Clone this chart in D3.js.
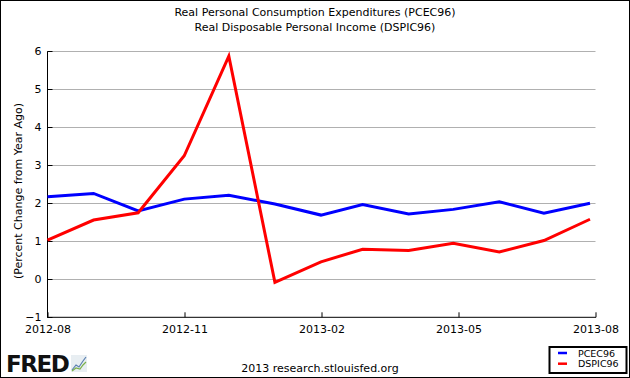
<!DOCTYPE html>
<html><head><meta charset="utf-8">
<script src="https://cdn.jsdelivr.net/npm/d3@7"></script>
<style>html,body{margin:0;padding:0;background:#fff;}svg{display:block;}text{font-family:"DejaVu Sans",Verdana,sans-serif;}</style>
</head><body>
<script>
const months = ["2012-08","2012-09","2012-10","2012-11","2012-12","2013-01","2013-02","2013-03","2013-04","2013-05","2013-06","2013-07","2013-08"];
const pcec96 = [2.17, 2.26, 1.80, 2.11, 2.21, 1.98, 1.69, 1.97, 1.72, 1.84, 2.04, 1.74, 2.00];
const dspic96 = [1.03, 1.56, 1.75, 3.25, 5.87, -0.08, 0.46, 0.79, 0.76, 0.95, 0.72, 1.02, 1.58];
const xTickLabels = ["2012-08","2012-11","2013-02","2013-05","2013-08"];
const yTicks = [-1,0,1,2,3,4,5,6];
const titles = ["Real Personal Consumption Expenditures (PCEC96)","Real Disposable Personal Income (DSPIC96)"];
const seriesNames = ["PCEC96","DSPIC96"];
const seriesColors = ["#0000ff","#ff0000"];

const W = 630, H = 378;
const L = 47.5, R = 595.5, T = 51.3, B = 317.3;
const parse = d3.timeParse("%Y-%m");

const svg = d3.select("body").append("svg").attr("width", W).attr("height", H);
svg.append("rect").attr("x",0.5).attr("y",0.5).attr("width",W-1).attr("height",H-1)
  .attr("fill","#fff").attr("stroke","#000").attr("stroke-width",1);

const x = d3.scaleTime().domain([parse(months[0]), parse(months[months.length-1])]).range([L, 590]);
const xLab = d3.scalePoint().domain(xTickLabels).range([L, R]);
const y = d3.scaleLinear().domain([-1, 6]).range([B, T]);

// titles
svg.selectAll("text.title").data(titles).enter().append("text")
  .attr("class","title").attr("x", 315).attr("y",(d,i)=>16+i*15)
  .attr("text-anchor","middle").attr("font-size",11).attr("fill","#000").text(d=>d);

// gridlines
svg.append("g").selectAll("line").data(yTicks.filter(v=>v>-1)).enter().append("line")
  .attr("x1",L).attr("x2",R).attr("y1",d=>Math.round(y(d))+0.5).attr("y2",d=>Math.round(y(d))+0.5)
  .attr("stroke","#b0b0b0").attr("stroke-width",1);

// y axis
const yAx = svg.append("g").attr("transform",`translate(${L},0)`)
  .call(d3.axisRight(y).tickValues(yTicks).tickSize(5).tickFormat(d3.format("d")));
yAx.select(".domain").remove();
yAx.selectAll(".tick").attr("transform", d=>`translate(0,${Math.round(y(d))+0.5})`);
yAx.selectAll(".tick line").attr("stroke","#000");
yAx.selectAll(".tick text").attr("x",-6).attr("text-anchor","end").attr("font-size",11)
  .attr("font-family","DejaVu Sans, sans-serif").attr("fill","#000").attr("dy","0.3em");
svg.append("line").attr("x1",L).attr("x2",L).attr("y1",T).attr("y2",B+0.5).attr("stroke","#000");

// x axis
const xAx = svg.append("g").attr("transform",`translate(0,${B})`)
  .call(d3.axisTop(xLab).tickSize(5).tickSizeOuter(0));
xAx.select(".domain").remove();
xAx.selectAll(".tick line").attr("stroke","#000");
xAx.selectAll(".tick text").attr("y",16).attr("dy",0).attr("font-size",11)
  .attr("font-family","DejaVu Sans, sans-serif").attr("fill","#000");
svg.append("line").attr("x1",L).attr("x2",R+0.5).attr("y1",B).attr("y2",B).attr("stroke","#000");

// y label
svg.append("text").attr("transform","translate(22,191) rotate(-90)").attr("text-anchor","middle")
  .attr("font-size",11).attr("fill","#000").text("(Percent Change from Year Ago)");

// lines
const line = d3.line().x((d,i)=>x(parse(months[i]))).y(d=>y(d));
[pcec96, dspic96].forEach((s,k)=>{
  svg.append("path").attr("d", line(s)).attr("fill","none")
    .attr("stroke", seriesColors[k]).attr("stroke-width",3).attr("stroke-linejoin","miter");
});

// legend
svg.append("rect").attr("x",549.5).attr("y",347).attr("width",77).attr("height",26)
  .attr("fill","#fff").attr("stroke","#000").attr("stroke-width",2);
seriesNames.forEach((n,i)=>{
  svg.append("line").attr("x1",558).attr("x2",567).attr("y1",353+i*10.7).attr("y2",353+i*10.7)
    .attr("stroke",seriesColors[i]).attr("stroke-width",2.5);
  svg.append("text").attr("x",578).attr("y",356.5+i*10.7).attr("font-size",9.5).attr("fill","#000").text(n);
});

// footer
svg.append("text").attr("x",320).attr("y",372).attr("text-anchor","middle").attr("font-size",11)
  .attr("fill","#000").text("2013 research.stlouisfed.org");

// FRED logo
svg.append("text").attr("x",6).attr("y",372).attr("font-size",23).attr("font-weight",900)
  .attr("font-family","DejaVu Sans, sans-serif").attr("letter-spacing",-1.5).attr("fill","#111").text("FRED");
const lg = svg.append("g").attr("transform","translate(71,355)");
lg.append("rect").attr("width",16).attr("height",17).attr("fill","#e8eef2");
lg.append("path").attr("d","M1,15 L5,10 L8,12 L12,6 L15,2").attr("fill","none").attr("stroke","#5a7fb0").attr("stroke-width",1.2);
lg.append("path").attr("d","M1,16 L5,13 L9,14 L12,10 L15,7").attr("fill","none").attr("stroke","#7ab04a").attr("stroke-width",1.2);
</script>
</body></html>
